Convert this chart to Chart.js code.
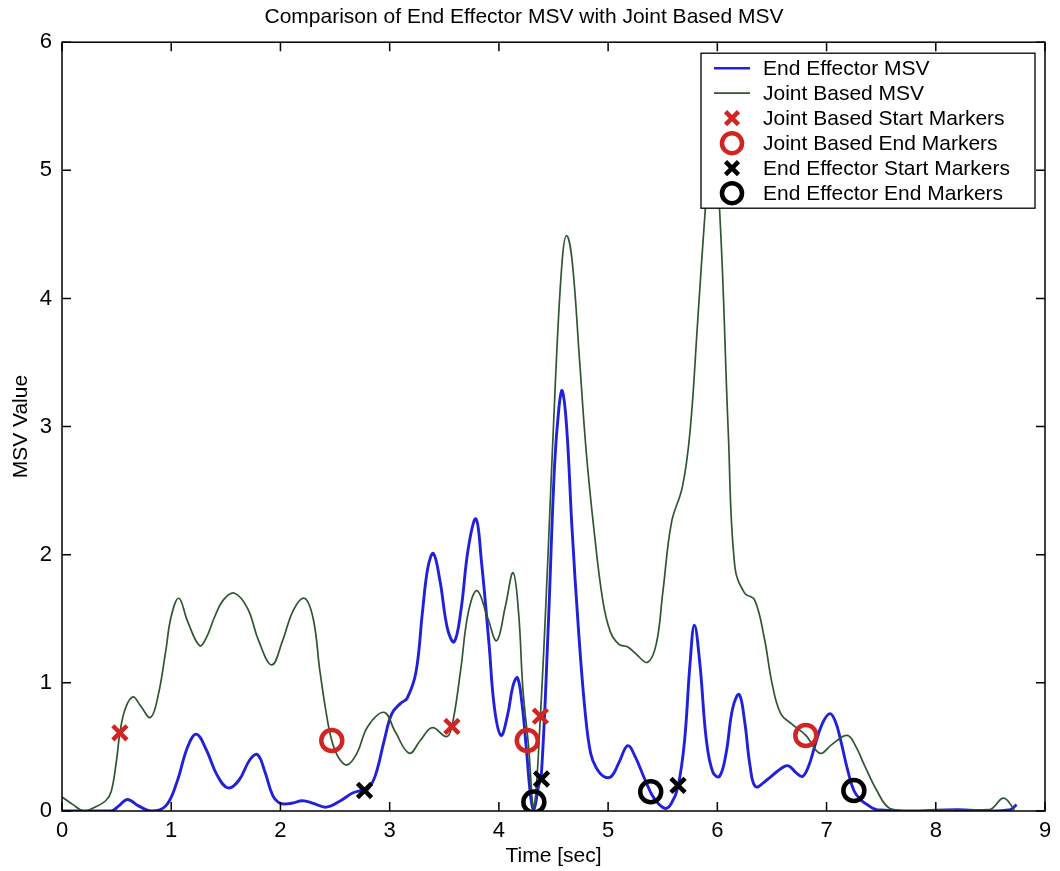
<!DOCTYPE html>
<html>
<head>
<meta charset="utf-8">
<script src="https://cdn.jsdelivr.net/npm/chart.js@4.4.1/dist/chart.umd.min.js"></script>
<style>
  html, body { margin: 0; padding: 0; background: #fff; }
  #wrap { width: 1060px; height: 871px; }
</style>
</head>
<body>
<div id="wrap"><canvas id="msv" width="1060" height="871"></canvas></div>
<script>
// End effector MSV curve (time in sec, MSV value)
const effectorTime = [0, 0.45, 0.52, 0.60, 0.70, 0.82, 0.95, 1.05, 1.15, 1.23, 1.32, 1.42, 1.52, 1.62, 1.72, 1.79,
  1.86, 1.93, 2.0, 2.1, 2.2, 2.3, 2.42, 2.55, 2.66, 2.74, 2.80, 2.87, 2.95, 3.02, 3.10, 3.16, 3.24, 3.30, 3.35,
  3.40, 3.46, 3.53, 3.59, 3.65, 3.72, 3.79, 3.84, 3.91, 3.96, 4.02, 4.08, 4.13, 4.17, 4.21, 4.25, 4.29, 4.32,
  4.36, 4.39, 4.45, 4.51, 4.55, 4.58, 4.62, 4.67, 4.73, 4.79, 4.84, 4.89, 4.96, 5.03, 5.10, 5.18, 5.25, 5.34,
  5.42, 5.52, 5.58, 5.64, 5.70, 5.75, 5.79, 5.84, 5.90, 5.96, 6.02, 6.08, 6.14, 6.20, 6.25, 6.30, 6.35, 6.45,
  6.55, 6.62, 6.66, 6.72, 6.78, 6.84, 6.89, 6.96, 7.03, 7.08, 7.13, 7.19, 7.25, 7.31, 7.37, 7.46, 7.8, 8.2,
  8.5, 8.68, 8.74];
const effectorMsv = [0, 0, 0.04, 0.09, 0.04, 0.0, 0.04, 0.22, 0.50, 0.60, 0.48, 0.28, 0.18, 0.24, 0.40, 0.44,
  0.30, 0.12, 0.06, 0.06, 0.08, 0.06, 0.03, 0.08, 0.14, 0.16, 0.17, 0.28, 0.55, 0.76, 0.84, 0.88, 1.08, 1.55, 1.90,
  2.01, 1.80, 1.42, 1.32, 1.55, 2.05, 2.28, 1.95, 1.30, 0.80, 0.59, 0.75, 0.98, 1.04, 0.85, 0.50, 0.12, 0.01,
  0.18, 0.30, 1.40, 2.70, 3.15, 3.28, 3.00, 2.20, 1.40, 0.77, 0.45, 0.34, 0.27, 0.27, 0.38, 0.51, 0.42, 0.24,
  0.10, 0.02, 0.06, 0.19, 0.55, 1.15, 1.45, 1.15, 0.55, 0.30, 0.27, 0.45, 0.80, 0.91, 0.70, 0.35, 0.19, 0.24,
  0.31, 0.35, 0.35, 0.30, 0.27, 0.36, 0.50, 0.68, 0.76, 0.70, 0.55, 0.33, 0.16, 0.09, 0.05, 0.01, 0.0, 0.01,
  0.0, 0.01, 0.05];

// Joint based MSV curve
const jointTime = [0, 0.1, 0.2, 0.3, 0.4, 0.45, 0.5, 0.53, 0.58, 0.65, 0.72, 0.81, 0.88, 0.95, 1.0, 1.07, 1.15,
  1.26, 1.32, 1.40, 1.48, 1.58, 1.70, 1.80, 1.92, 2.02, 2.12, 2.22, 2.30, 2.36, 2.42, 2.47, 2.53, 2.61, 2.70, 2.80,
  2.95, 3.05, 3.18, 3.28, 3.39, 3.52, 3.57, 3.65, 3.72, 3.80, 3.90, 3.98, 4.06, 4.13, 4.18, 4.22, 4.27, 4.32,
  4.38, 4.45, 4.52, 4.58, 4.62, 4.67, 4.74, 4.80, 4.87, 4.95, 5.02, 5.10, 5.18, 5.25, 5.36, 5.44, 5.50, 5.58,
  5.68, 5.75, 5.82, 5.89, 5.95, 6.02, 6.10, 6.16, 6.25, 6.34, 6.43, 6.50, 6.58, 6.68, 6.81, 6.94, 7.05, 7.19,
  7.27, 7.34, 7.46, 7.58, 7.8, 8.0, 8.49, 8.62, 8.72];
const jointMsv = [0.11, 0.05, 0.0, 0.03, 0.08, 0.15, 0.40, 0.61, 0.80, 0.89, 0.82, 0.73, 0.90, 1.25, 1.52, 1.66,
  1.48, 1.29, 1.35, 1.52, 1.65, 1.70, 1.58, 1.33, 1.14, 1.33, 1.57, 1.66, 1.50, 1.10, 0.76, 0.55, 0.42, 0.36, 0.45,
  0.66, 0.77, 0.62, 0.45, 0.55, 0.65, 0.58, 0.66, 1.10, 1.55, 1.72, 1.50, 1.33, 1.60, 1.86, 1.55, 0.95, 0.52,
  0.03, 0.74, 2.0, 3.4, 4.3, 4.49, 4.3, 3.5, 2.8, 2.2, 1.65, 1.40, 1.30, 1.28, 1.23, 1.16, 1.30, 1.70, 2.25,
  2.53, 2.96, 3.82, 4.70, 5.3, 4.70, 2.96, 1.91, 1.70, 1.65, 1.35, 1.0, 0.76, 0.68, 0.59, 0.45, 0.52, 0.59,
  0.50, 0.37, 0.16, 0.02, 0.0, 0.01, 0.01, 0.10, 0.01];

// start / end markers
const jointStartTime = [0.53, 3.57, 4.38];
const jointStartMsv = [0.61, 0.66, 0.74];
const jointEndTime = [2.47, 4.26, 6.81];
const jointEndMsv = [0.55, 0.55, 0.59];
const effStartTime = [2.77, 4.39, 5.64];
const effStartMsv = [0.16, 0.25, 0.20];
const effEndTime = [4.32, 5.39, 7.25];
const effEndMsv = [0.07, 0.15, 0.16];

const xTicks = [0, 1, 2, 3, 4, 5, 6, 7, 8, 9];
const yTicks = [0, 1, 2, 3, 4, 5, 6];

const seriesNames = ['End Effector MSV', 'Joint Based MSV', 'Joint Based Start Markers',
  'Joint Based End Markers', 'End Effector Start Markers', 'End Effector End Markers'];

const BLUE = '#2121dc';
const GREEN = '#2f5632';
const RED = '#d22420';
const FONT = 'Liberation Sans, Arial, Helvetica, sans-serif';

function pts(xs, ys) {
  return xs.map((x, i) => ({ x: x, y: ys[i] }));
}

function markerSet(label, xs, ys, style, color, radius) {
  return {
    label: label,
    data: pts(xs, ys),
    showLine: false,
    pointStyle: style,
    pointRadius: radius,
    pointBorderWidth: 4.5,
    pointBorderColor: color,
    pointBackgroundColor: 'rgba(0,0,0,0)',
    order: 0
  };
}

// box with inward ticks on all four sides
const axesBox = {
  id: 'axesBox',
  afterDatasetsDraw(chart) {
    const { ctx, chartArea: a, scales } = chart;
    ctx.save();
    ctx.strokeStyle = '#000';
    ctx.lineWidth = 1.5;
    ctx.strokeRect(a.left, a.top, a.right - a.left, a.bottom - a.top);
    ctx.beginPath();
    xTicks.forEach(v => {
      const px = scales.x.getPixelForValue(v);
      ctx.moveTo(px, a.bottom); ctx.lineTo(px, a.bottom - 9);
      ctx.moveTo(px, a.top); ctx.lineTo(px, a.top + 9);
    });
    yTicks.forEach(v => {
      const py = scales.y.getPixelForValue(v);
      ctx.moveTo(a.left, py); ctx.lineTo(a.left + 9, py);
      ctx.moveTo(a.right, py); ctx.lineTo(a.right - 9, py);
    });
    ctx.stroke();
    ctx.restore();
  }
};

// legend box in the upper right corner of the plot
const cornerLegend = {
  id: 'cornerLegend',
  afterDraw(chart) {
    const ctx = chart.ctx;
    const a = chart.chartArea;
    const left = a.right - 344, top = a.top + 11, w = 334, h = 155;
    ctx.save();
    ctx.fillStyle = '#fff';
    ctx.fillRect(left, top, w, h);
    ctx.strokeStyle = '#000';
    ctx.lineWidth = 1.3;
    ctx.strokeRect(left, top, w, h);
    ctx.font = '21px ' + FONT;
    ctx.textBaseline = 'middle';
    ctx.textAlign = 'left';
    const mx = left + 31;
    seriesNames.forEach((name, i) => {
      const y = top + 15 + i * 25;
      ctx.save();
      if (i < 2) {
        ctx.strokeStyle = i === 0 ? BLUE : GREEN;
        ctx.lineWidth = i === 0 ? 2.6 : 1.7;
        ctx.beginPath();
        ctx.moveTo(mx - 18, y); ctx.lineTo(mx + 18, y);
        ctx.stroke();
      } else {
        ctx.strokeStyle = i < 4 ? RED : '#000';
        ctx.lineWidth = 4.5;
        ctx.beginPath();
        if (i % 2 === 0) {
          const d = 6.5;
          ctx.moveTo(mx - d, y - d); ctx.lineTo(mx + d, y + d);
          ctx.moveTo(mx - d, y + d); ctx.lineTo(mx + d, y - d);
        } else {
          ctx.arc(mx, y, 10, 0, Math.PI * 2);
        }
        ctx.stroke();
      }
      ctx.restore();
      ctx.fillStyle = '#000';
      ctx.fillText(name, left + 62, y + 1);
    });
    ctx.restore();
  }
};

new Chart(document.getElementById('msv'), {
  type: 'line',
  data: {
    datasets: [
      {
        label: seriesNames[0],
        data: pts(effectorTime, effectorMsv),
        borderColor: BLUE,
        borderWidth: 2.9,
        pointRadius: 0,
        tension: 0.4,
        order: 2
      },
      {
        label: seriesNames[1],
        data: pts(jointTime, jointMsv),
        borderColor: GREEN,
        borderWidth: 1.7,
        pointRadius: 0,
        tension: 0.4,
        order: 1
      },
      markerSet(seriesNames[2], jointStartTime, jointStartMsv, 'crossRot', RED, 10),
      markerSet(seriesNames[3], jointEndTime, jointEndMsv, 'circle', RED, 10.5),
      markerSet(seriesNames[4], effStartTime, effStartMsv, 'crossRot', '#000', 10),
      markerSet(seriesNames[5], effEndTime, effEndMsv, 'circle', '#000', 10.5)
    ]
  },
  options: {
    responsive: false,
    devicePixelRatio: 1,
    animation: false,
    events: [],
    layout: { padding: { left: 0, right: 12, top: 0, bottom: 0 } },
    plugins: {
      legend: { display: false },
      tooltip: { enabled: false },
      title: {
        display: true,
        text: 'Comparison of End Effector MSV with Joint Based MSV',
        color: '#000',
        font: { family: FONT, size: 21, weight: 'normal' },
        padding: { top: 5, bottom: 12 }
      }
    },
    scales: {
      x: {
        type: 'linear',
        min: 0,
        max: 9,
        grid: { display: false, drawTicks: false },
        border: { display: false },
        ticks: {
          stepSize: 1,
          color: '#000',
          padding: 7,
          font: { family: FONT, size: 22 }
        },
        title: {
          display: true,
          text: 'Time [sec]',
          color: '#000',
          font: { family: FONT, size: 21 },
          padding: { top: 0, bottom: 2 }
        },
        afterFit(scale) { scale.height = 60; }
      },
      y: {
        type: 'linear',
        min: 0,
        max: 6,
        grid: { display: false, drawTicks: false },
        border: { display: false },
        ticks: {
          stepSize: 1,
          color: '#000',
          padding: 10,
          font: { family: FONT, size: 22 }
        },
        title: {
          display: true,
          text: 'MSV Value',
          color: '#000',
          font: { family: FONT, size: 21 },
          padding: { top: 9, bottom: 0 }
        },
        afterFit(scale) { scale.width = 62; }
      }
    }
  },
  plugins: [axesBox, cornerLegend]
});
</script>
</body>
</html>
